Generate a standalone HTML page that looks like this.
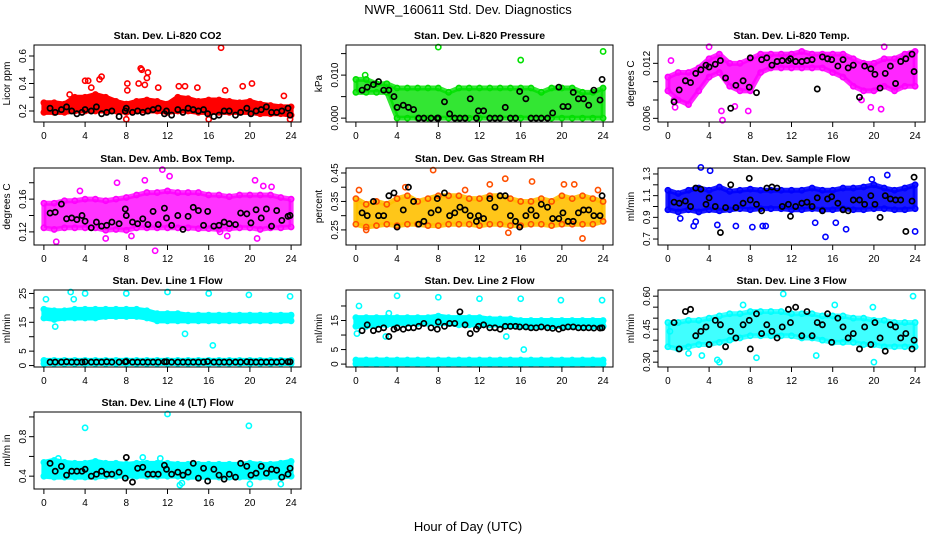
<!DOCTYPE html>
<html><head><meta charset="utf-8"><style>
body{margin:0;background:#fff;}
svg{display:block;font-family:"Liberation Sans",Arial,sans-serif;}
</style></head><body>
<svg id="chart" width="936" height="540" viewBox="0 0 936 540">
<text x="468" y="14" text-anchor="middle" font-size="13">NWR_160611 Std. Dev. Diagnostics</text>
<text x="468" y="531" text-anchor="middle" font-size="13">Hour of Day (UTC)</text>
</svg>
<script>
const hours = [0,1,2,3,4,5,6,7,8,9,10,11,12,13,14,15,16,17,18,19,20,21,22,23,24];
const blackHours = [0.6,1.1,1.7,2.2,2.7,3.2,3.7,4,4.6,5.1,5.6,6.1,6.6,7.3,7.9,8,8.6,9.1,9.6,10.1,10.6,11.1,11.7,11.9,12.4,13,13.5,14,14.5,15,15.5,15.9,16.5,17,17.5,18,18.6,19.1,19.7,20.1,20.6,21.1,21.6,22.1,22.6,23.1,23.7,23.9];
const xTicks = [0,4,8,12,16,20,24];

const co2Lo = [0.19,0.19,0.19,0.2,0.2,0.2,0.2,0.2,0.19,0.2,0.2,0.2,0.19,0.2,0.2,0.19,0.19,0.19,0.19,0.19,0.19,0.18,0.18,0.18,0.17];
const co2Hi = [0.26,0.26,0.25,0.3,0.3,0.32,0.3,0.27,0.25,0.27,0.28,0.27,0.25,0.3,0.29,0.27,0.28,0.28,0.27,0.26,0.27,0.25,0.24,0.23,0.23];
const co2OutX = [2.5,4,4.3,4.6,5.4,5.6,8.1,8.1,9.2,9.4,9.5,9.8,10,10.1,11.1,13.1,13.7,14.9,16,17.2,17.6,19.3,20.2,23.3,23.9,8];
const co2OutY = [0.32,0.42,0.42,0.37,0.43,0.45,0.35,0.4,0.4,0.51,0.5,0.39,0.44,0.48,0.37,0.38,0.38,0.37,0.14,0.66,0.35,0.38,0.4,0.31,0.14,0.14];
const co2Black = [0.22,0.19,0.21,0.23,0.2,0.18,0.19,0.21,0.2,0.23,0.18,0.19,0.2,0.16,0.2,0.22,0.19,0.2,0.19,0.2,0.21,0.22,0.18,0.2,0.17,0.21,0.19,0.22,0.21,0.2,0.21,0.18,0.16,0.17,0.2,0.2,0.17,0.19,0.22,0.18,0.2,0.21,0.23,0.19,0.19,0.2,0.22,0.17];

const presLo = [0.006,0.006,0.006,0.006,0,0,0,0,0,0,0,0,0,0,0,0,0,0,0,0,0,0,0,0,0];
const presHi = [0.009,0.009,0.008,0.008,0.007,0.007,0.007,0.007,0.007,0.006,0.007,0.007,0.007,0.007,0.007,0.007,0.007,0.007,0.006,0.007,0.007,0.007,0.006,0.006,0.007];
const presOutX = [8,16,24,0.9];
const presOutY = [0.0165,0.0135,0.0155,0.010];
const presBlack = [0.0065,0.0072,0.0078,0.0085,0.0065,0.0065,0.005,0.0025,0.003,0.0025,0.002,0,0,0,0,0,0.0038,0.001,0,0,0,0.0045,0,0.0017,0.0017,0,0,0,0.0025,0,0,0.0062,0.0045,0,0,0,0,0.0012,0.0072,0.0027,0.0027,0.006,0.0045,0.0045,0.003,0.0065,0.0042,0.009];

const tempLo = [0.009,0.008,0.0075,0.009,0.0105,0.011,0.0095,0.009,0.009,0.011,0.0115,0.0115,0.0115,0.0115,0.0115,0.0115,0.011,0.0105,0.0095,0.009,0.009,0.0095,0.009,0.0095,0.0095];
const tempHi = [0.0105,0.011,0.011,0.0115,0.0125,0.013,0.012,0.012,0.0125,0.013,0.013,0.013,0.013,0.0133,0.013,0.013,0.013,0.013,0.0125,0.012,0.012,0.0125,0.0125,0.013,0.0133];
const tempOutX = [0.3,0.7,4,5.2,5.3,6.5,7.8,18.8,19.7,20.7,21,23.6,0.6];
const tempOutY = [0.0123,0.0072,0.0138,0.0068,0.0058,0.0073,0.0068,0.008,0.0072,0.007,0.0138,0.013,0.008];
const tempBlack = [0.0078,0.0091,0.0101,0.0099,0.0109,0.0113,0.0118,0.0116,0.0119,0.0123,0.0104,0.0071,0.0096,0.0101,0.0094,0.0126,0.0088,0.0124,0.0126,0.0118,0.0122,0.0123,0.0123,0.0125,0.0122,0.0122,0.0123,0.0124,0.0092,0.0127,0.0125,0.0124,0.0117,0.0124,0.0115,0.0118,0.0083,0.0117,0.0114,0.0108,0.0093,0.0109,0.0117,0.0098,0.0122,0.0125,0.013,0.0111];

const ambLo = [0.125,0.123,0.125,0.125,0.125,0.125,0.122,0.123,0.122,0.125,0.125,0.125,0.125,0.125,0.125,0.124,0.124,0.123,0.124,0.125,0.125,0.123,0.125,0.125,0.126];
const ambHi = [0.155,0.155,0.158,0.158,0.16,0.16,0.158,0.16,0.162,0.165,0.168,0.168,0.17,0.168,0.168,0.168,0.165,0.165,0.163,0.165,0.165,0.165,0.165,0.162,0.16];
const ambOutX = [1.2,3.5,7.1,9.8,10.8,11.5,12.2,17.1,17.8,20.5,21.3,22.1,20.7,8.5,6];
const ambOutY = [0.108,0.17,0.18,0.183,0.097,0.196,0.188,0.12,0.115,0.183,0.176,0.175,0.112,0.115,0.112];
const ambBlack = [0.143,0.144,0.154,0.136,0.137,0.135,0.14,0.133,0.125,0.132,0.127,0.128,0.132,0.13,0.148,0.14,0.132,0.13,0.136,0.129,0.145,0.129,0.149,0.137,0.128,0.14,0.123,0.139,0.15,0.146,0.128,0.145,0.127,0.128,0.132,0.13,0.129,0.143,0.142,0.131,0.147,0.137,0.148,0.127,0.146,0.134,0.139,0.14];

const rhLo = [0.27,0.26,0.265,0.27,0.265,0.27,0.27,0.265,0.265,0.27,0.27,0.27,0.265,0.27,0.27,0.265,0.265,0.27,0.27,0.265,0.27,0.27,0.27,0.27,0.28];
const rhHi = [0.36,0.34,0.35,0.34,0.36,0.37,0.35,0.36,0.37,0.37,0.37,0.36,0.36,0.37,0.37,0.36,0.35,0.35,0.36,0.35,0.37,0.36,0.37,0.36,0.35];
const rhOutX = [0.3,4.8,7.5,13,14.5,17.1,20.2,21.2,22,23.5,14.8,10.6,1];
const rhOutY = [0.39,0.4,0.46,0.41,0.43,0.42,0.41,0.41,0.22,0.39,0.24,0.39,0.25];
const rhBlack = [0.31,0.3,0.35,0.3,0.3,0.37,0.38,0.26,0.32,0.4,0.35,0.27,0.28,0.31,0.36,0.32,0.38,0.3,0.31,0.33,0.32,0.3,0.28,0.3,0.29,0.36,0.33,0.37,0.37,0.3,0.28,0.26,0.3,0.32,0.3,0.34,0.33,0.29,0.29,0.31,0.28,0.28,0.31,0.32,0.32,0.3,0.3,0.37];

const sfLo = [0.97,0.95,0.97,0.95,0.97,0.96,0.97,0.98,0.97,0.98,0.98,0.98,0.97,0.97,0.98,0.97,0.97,0.98,0.97,0.97,0.98,0.98,0.97,0.97,0.98];
const sfHi = [1.15,1.12,1.15,1.17,1.15,1.18,1.14,1.15,1.16,1.15,1.15,1.15,1.15,1.15,1.17,1.15,1.15,1.17,1.17,1.18,1.2,1.17,1.15,1.17,1.2];
const sfOutX = [2.5,2.7,3.2,4.1,4.8,6.6,8.2,9.2,9.5,14.3,15.3,16.3,17.3,19.8,21.3,24,1.2];
const sfOutY = [0.82,0.86,1.36,1.33,0.83,0.82,0.81,0.82,0.82,0.85,0.72,0.85,0.79,1.25,1.29,0.77,0.89];
const sfBlack = [1.04,1.03,1.05,1.0,1.17,1.16,1.02,1.08,1.0,0.76,0.99,1.2,0.99,1.03,1.26,1.06,1.02,0.96,1.17,1.18,1.17,1.0,1.02,0.91,1.0,1.03,1.04,1.0,1.08,0.96,1.07,1.09,1.03,0.97,0.96,1.06,1.06,1.02,1.1,1.02,0.9,1.1,1.07,1.06,1.06,0.77,1.05,1.27];

const l1Lo = [16.5,16,16.5,16.5,16.5,16.5,17,17,17,17,16.5,15.5,15.5,15.5,15.5,15.5,15.5,15.5,15.5,15.5,15.5,15.5,15.5,15.5,15.5];
const l1Hi = [19.5,19,19,19.5,19.5,19.5,19.5,19.5,19.5,19.5,19,18,18,18,17.5,17.5,17.5,17.5,17.5,17.5,17.5,17.5,17.5,17.5,17.5];
const l1Lo2 = [0.7,0.7,0.7,0.7,0.7,0.7,0.7,0.7,0.7,0.7,0.7,0.7,0.7,0.7,0.7,0.7,0.7,0.7,0.7,0.7,0.7,0.7,0.7,0.7,0.7];
const l1Hi2 = [1.8,1.8,1.8,1.8,1.8,1.8,1.8,1.8,1.8,1.8,1.8,1.8,1.8,1.8,1.8,1.8,1.8,1.8,1.8,1.8,1.8,1.8,1.8,1.8,1.8];
const l1OutX = [0.2,2.6,2.9,4,8,12,16,19.9,23.9,13.7,16.4,1.1,0.1];
const l1OutY = [23,25.5,23,25,25,25.5,25,24.5,24,11,7,13.5,1.2];
const l1Black = [1.2,1.2,1.2,1.3,1.2,1.2,1.2,1.3,1.2,1.2,1.2,1.3,1.2,1.2,1.3,1.4,1.2,1.2,1.2,1.2,1.2,1.2,1.3,1.3,1.2,1.2,1.2,1.2,1.2,1.2,1.2,1.4,1.2,1.2,1.2,1.2,1.2,1.2,1.3,1.2,1.2,1.2,1.2,1.2,1.2,1.3,1.3,1.3];

const l2Lo = [13,13,13.5,13.5,14,14,14,14,14,14,13.5,13.5,13.5,13.5,13.5,13,13,13,13,13,13,13,13,13,13];
const l2Hi = [16,16,16,16,16,16,16,16,16.5,16,16,16,16,15.5,15.5,15.5,15,15,15,15,15,15,15,15,15];
const l2Lo2 = [0.1,0.1,0.1,0.1,0.1,0.1,0.1,0.1,0.1,0.1,0.1,0.1,0.1,0.1,0.1,0.1,0.1,0.1,0.1,0.1,0.1,0.1,0.1,0.1,0.1];
const l2Hi2 = [1.4,1.4,1.4,1.4,1.4,1.4,1.4,1.4,1.4,1.4,1.4,1.4,1.4,1.4,1.4,1.4,1.4,1.4,1.4,1.4,1.4,1.4,1.4,1.4,1.4];
const l2OutX = [0.3,3.2,4,8,12,16,19.9,23.9,14.6,16.3,0.1,2.9];
const l2OutY = [20,17.5,23.5,23,22.5,22.5,22,22,9.5,5,10.5,9.5];
const l2Black = [11.5,13.5,11.5,12,12.5,9.5,12,12.5,12,12.5,12.5,13,14,12.5,12,14.5,13,14,14,18,13.5,10.5,12,13,13.5,12.5,12.5,12,13,13,13,12.8,12.8,12.5,12.5,12.8,12.5,12.3,12,12.5,12.8,12.8,12.5,12.5,12.5,12.4,12.4,12.5];

const l3Lo = [0.37,0.36,0.37,0.38,0.38,0.39,0.4,0.41,0.42,0.42,0.42,0.42,0.42,0.41,0.41,0.4,0.39,0.39,0.39,0.38,0.38,0.37,0.37,0.37,0.37];
const l3Hi = [0.48,0.48,0.49,0.49,0.5,0.51,0.52,0.52,0.53,0.53,0.53,0.53,0.52,0.52,0.52,0.51,0.51,0.51,0.5,0.5,0.49,0.49,0.48,0.48,0.48];
const l3OutX = [0.2,4.8,5,7.3,8.6,11.2,14.4,16.2,20,23.8,3.3,19.9,2];
const l3OutY = [0.44,0.31,0.3,0.56,0.32,0.61,0.33,0.56,0.3,0.6,0.33,0.55,0.34];
const l3Black = [0.48,0.36,0.53,0.54,0.42,0.44,0.46,0.38,0.49,0.47,0.37,0.44,0.41,0.47,0.49,0.36,0.52,0.43,0.47,0.44,0.41,0.46,0.54,0.48,0.55,0.42,0.53,0.42,0.48,0.47,0.52,0.39,0.5,0.46,0.41,0.43,0.36,0.46,0.38,0.48,0.41,0.35,0.47,0.46,0.41,0.43,0.36,0.4];

const l4Lo = [0.4,0.39,0.39,0.39,0.39,0.39,0.4,0.4,0.4,0.4,0.4,0.4,0.4,0.4,0.39,0.39,0.39,0.39,0.39,0.39,0.39,0.39,0.39,0.39,0.4];
const l4Hi = [0.54,0.56,0.54,0.53,0.53,0.55,0.53,0.53,0.52,0.53,0.53,0.53,0.53,0.52,0.52,0.52,0.52,0.52,0.52,0.52,0.53,0.52,0.52,0.53,0.55];
const l4OutX = [4,12,19.9,13.2,13.4,20,23,9.6,11.3,1.4];
const l4OutY = [0.89,1.03,0.91,0.31,0.33,0.32,0.32,0.59,0.58,0.58];
const l4Black = [0.53,0.45,0.5,0.41,0.45,0.45,0.45,0.47,0.4,0.42,0.45,0.42,0.42,0.44,0.38,0.59,0.34,0.48,0.49,0.42,0.42,0.42,0.51,0.47,0.42,0.44,0.41,0.44,0.53,0.38,0.48,0.35,0.47,0.41,0.37,0.42,0.39,0.53,0.5,0.41,0.43,0.5,0.43,0.47,0.46,0.39,0.42,0.48];

const panels = [
 {name:'co2',title:'Stan. Dev. Li-820 CO2',ylab:'Licor ppm',col:0,row:0,y0:0.12,y1:0.68,ticks:[0.2,0.3,0.4,0.5,0.6],labels:['0.2','','0.4','','0.6'],color:'#ff0000',lo:co2Lo,hi:co2Hi,ox:co2OutX,oy:co2OutY,bk:co2Black,op:1},
 {name:'pressure',title:'Stan. Dev. Li-820 Pressure',ylab:'kPa',col:1,row:0,y0:-0.0009,y1:0.017,ticks:[0,0.005,0.01,0.015],labels:['0.000','','0.010',''],color:'#00e000',lo:presLo,hi:presHi,ox:presOutX,oy:presOutY,bk:presBlack,op:0.8},
 {name:'temp',title:'Stan. Dev. Li-820 Temp.',ylab:'degrees C',col:2,row:0,y0:0.0056,y1:0.014,ticks:[0.006,0.008,0.01,0.012],labels:['0.006','','','0.012'],color:'#ff00ff',lo:tempLo,hi:tempHi,ox:tempOutX,oy:tempOutY,bk:tempBlack,op:0.85},
 {name:'amb-box-temp',title:'Stan. Dev. Amb. Box Temp.',ylab:'degrees C',col:0,row:1,y0:0.104,y1:0.198,ticks:[0.12,0.14,0.16,0.18],labels:['0.12','','0.16',''],color:'#ff00ff',lo:ambLo,hi:ambHi,ox:ambOutX,oy:ambOutY,bk:ambBlack,op:0.8},
 {name:'gas-rh',title:'Stan. Dev. Gas Stream RH',ylab:'percent',col:1,row:1,y0:0.197,y1:0.4675,ticks:[0.25,0.3,0.35,0.4,0.45],labels:['0.25','','0.35','','0.45'],color:'#ffc000',stroke:'#ff5000',lo:rhLo,hi:rhHi,ox:rhOutX,oy:rhOutY,bk:rhBlack,op:0.9},
 {name:'sample-flow',title:'Stan. Dev. Sample Flow',ylab:'ml/min',col:2,row:1,y0:0.645,y1:1.355,ticks:[0.7,0.8,0.9,1.0,1.1,1.2,1.3],labels:['0.7','','0.9','','1.1','','1.3'],color:'#0000ff',lo:sfLo,hi:sfHi,ox:sfOutX,oy:sfOutY,bk:sfBlack,op:0.9},
 {name:'line1-flow',title:'Stan. Dev. Line 1 Flow',ylab:'ml/min',col:0,row:2,y0:-0.5,y1:26.2,ticks:[0,5,10,15,20,25],labels:['0','5','','15','','25'],color:'#00ffff',lo:l1Lo,hi:l1Hi,lo2:l1Lo2,hi2:l1Hi2,ox:l1OutX,oy:l1OutY,bk:l1Black,op:1},
 {name:'line2-flow',title:'Stan. Dev. Line 2 Flow',ylab:'ml/min',col:1,row:2,y0:-1,y1:25.5,ticks:[0,5,10,15,20],labels:['0','5','','15',''],color:'#00ffff',lo:l2Lo,hi:l2Hi,lo2:l2Lo2,hi2:l2Hi2,ox:l2OutX,oy:l2OutY,bk:l2Black,op:1},
 {name:'line3-flow',title:'Stan. Dev. Line 3 Flow',ylab:'ml/min',col:2,row:2,y0:0.278,y1:0.628,ticks:[0.3,0.35,0.4,0.45,0.5,0.55,0.6],labels:['0.30','','','0.45','','','0.60'],color:'#00ffff',lo:l3Lo,hi:l3Hi,ox:l3OutX,oy:l3OutY,bk:l3Black,op:0.75},
 {name:'line4-flow',title:'Stan. Dev. Line 4 (LT) Flow',ylab:'ml/m in',col:0,row:3,y0:0.27,y1:1.05,ticks:[0.4,0.6,0.8,1.0],labels:['0.4','','0.8',''],color:'#00ffff',lo:l4Lo,hi:l4Hi,ox:l4OutX,oy:l4OutY,bk:l4Black,op:1}
];

const NS='http://www.w3.org/2000/svg';
const svg=document.getElementById('chart');
function mk(tag,attrs,parent){const e=document.createElementNS(NS,tag);for(const k in attrs)e.setAttribute(k,attrs[k]);(parent||svg).appendChild(e);return e;}
const BOXW=267,BOXH=77;
const colX=[34,346,658], rowY=[45,168,290,412];

panels.forEach(p=>{
  const L=colX[p.col],T=rowY[p.row];
  const sc=p.stroke||p.color;
  const g=mk('g',{});
  
  
  const xs=v=>L+(v+0.96)/(25.92)*BOXW;
  const ys=v=>T+BOXH-(v-p.y0)/(p.y1-p.y0)*BOXH;
  const t=mk('text',{x:L+BOXW/2,y:T-6,'text-anchor':'middle','font-size':'10.5','font-weight':'bold'},g);
  t.textContent=p.title;
  
  
  const yl=mk('text',{x:0,y:0,'text-anchor':'middle','font-size':'10',transform:`translate(${L-24},${T+BOXH/2}) rotate(-90)`},g);
  yl.textContent=p.ylab;
  
  
  const clip=mk('g',{},g);
  const band=(lo,hi)=>{
    let d='';
    hours.forEach((h,i)=>{d+=(i?'L':'M')+xs(h)+','+ys(hi[i]);});
    for(let i=hours.length-1;i>=0;i--)d+='L'+xs(hours[i])+','+ys(lo[i]);
    const pa=mk('path',{d:d+'Z',fill:p.color,'fill-opacity':p.op,stroke:p.color,'stroke-width':5,'stroke-linejoin':'round','stroke-opacity':p.op},clip);
    
    
    hours.forEach((h,i)=>{[lo[i],hi[i]].forEach(v=>{
      const c=mk('circle',{cx:xs(h),cy:ys(v),r:2.6,fill:'none',stroke:sc,'stroke-width':1.6},clip);
      
      
    });});
  };
  band(p.lo,p.hi);
  if(p.lo2)band(p.lo2,p.hi2);
  p.ox.forEach((x,i)=>{
    const c=mk('circle',{cx:xs(x),cy:ys(p.oy[i]),r:2.6,fill:'none',stroke:sc,'stroke-width':1.6},clip);
    
    
  });
  blackHours.forEach((x,i)=>{
    if(i>=p.bk.length)return;
    const c=mk('circle',{cx:xs(x),cy:ys(p.bk[i]),r:2.6,fill:'none',stroke:'#000','stroke-width':1.7},clip);
    
    
  });
  const box=mk('rect',{x:L,y:T,width:BOXW,height:BOXH,fill:'none',stroke:'#000','stroke-width':1},g);
  
  
  xTicks.forEach(v=>{
    mk('line',{x1:xs(v),x2:xs(v),y1:T+BOXH,y2:T+BOXH+5,stroke:'#000'},g);
    const tl=mk('text',{x:xs(v),y:T+BOXH+17,'text-anchor':'middle','font-size':'10'},g);
    tl.textContent=v;
    
    
  });
  p.ticks.forEach((v,i)=>{
    mk('line',{x1:L-5,x2:L,y1:ys(v),y2:ys(v),stroke:'#000'},g);
    if(p.labels[i]){
      const tl=mk('text',{x:0,y:0,'text-anchor':'middle','font-size':'10',transform:`translate(${L-8},${ys(v)}) rotate(-90)`},g);
      tl.textContent=p.labels[i];
      
      
    }
  });
});
</script>
</body></html>
